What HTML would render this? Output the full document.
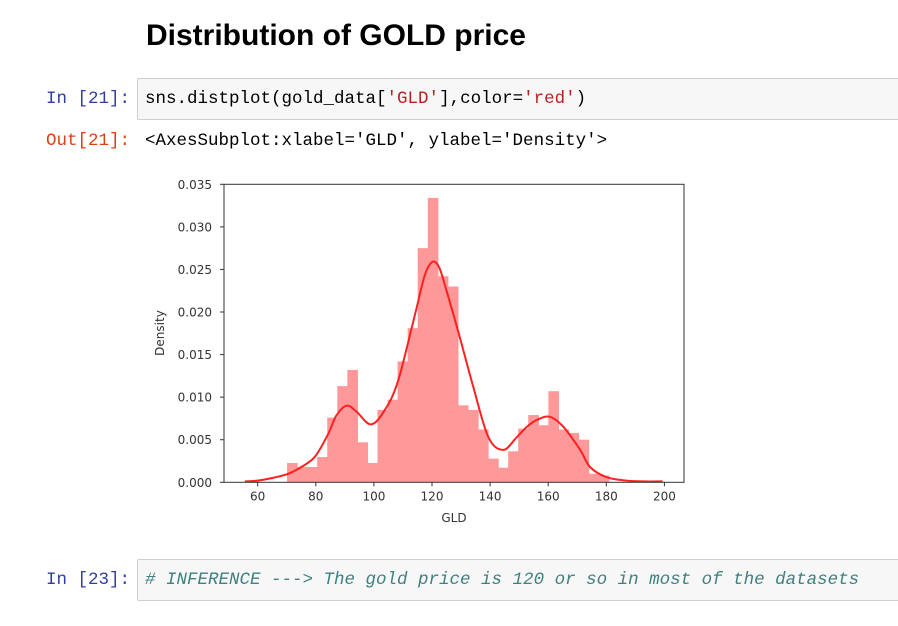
<!DOCTYPE html>
<html><head><meta charset="utf-8"><style>
body{margin:0;width:898px;height:626px;background:#fff;position:relative;overflow:hidden;font-family:"Liberation Sans",sans-serif}
.abs{position:absolute}
.mono{font-family:"Liberation Mono",monospace;font-size:17.5px;white-space:pre}
.box{background:#f7f7f7;border:1px solid #cfcfcf;border-radius:2px}
</style></head><body>
<div class="abs" style="left:146px;top:19px;font-size:30px;font-weight:bold;color:#000">Distribution of GOLD price</div>
<div class="abs mono" style="left:46px;top:89px;color:#303f9f">In [21]:</div>
<div class="abs box" style="left:137px;top:78px;width:770px;height:40px"></div>
<div class="abs mono" style="left:145px;top:89px;color:#000">sns.distplot(gold_data[<span style="color:#ba2121">'GLD'</span>],color=<span style="color:#ba2121">'red'</span>)</div>
<div class="abs mono" style="left:46px;top:131px;color:#d84315">Out[21]:</div>
<div class="abs mono" style="left:145px;top:131px;color:#000">&lt;AxesSubplot:xlabel='GLD', ylabel='Density'&gt;</div>
<svg class="abs" style="left:0;top:0" width="898" height="626" id="chart"></svg>
<div class="abs mono" style="left:46px;top:570px;color:#303f9f">In [23]:</div>
<div class="abs box" style="left:137px;top:559px;width:770px;height:40px"></div>
<div class="abs mono" style="left:145px;top:570px;color:#408080;font-style:italic"># INFERENCE ---&gt; The gold price is 120 or so in most of the datasets</div>
<script>
const binStart = 70.2;
const binWidth = 3.46;
const binDensities = [0.00227,0.0018,0.0018,0.00297,0.0076,0.0113,0.0132,0.0047,0.00227,0.0085,0.0097,0.0142,0.0181,0.0275,0.0334,0.0242,0.0230,0.00904,0.0085,0.0062,0.00278,0.00172,0.00364,0.0063,0.0079,0.0067,0.0107,0.0062,0.0058,0.0050,0.0010,0.0008];
const kdeX = [55.6,60,65,70.5,75,79.7,84.3,87,90.6,94,99,103.8,108.4,114.2,117.5,120.2,122.5,125,129.6,134.2,139.4,144.5,149.2,152.6,156,160.4,165,171,174.4,180.1,187,193,199.4];
const kdeY = [0.0001,0.0002,0.0005,0.001,0.0018,0.003,0.0057,0.0078,0.009,0.0083,0.0068,0.0085,0.012,0.0198,0.0243,0.0259,0.0252,0.0225,0.017,0.0112,0.0053,0.0038,0.0053,0.0065,0.0073,0.0077,0.0066,0.0038,0.0018,0.0006,0.0002,0.0001,0.0001];
const xTicks = [60,80,100,120,140,160,180,200];
const yTicks = [0,0.005,0.01,0.015,0.02,0.025,0.03,0.035];
const yTickLabels = ["0.000","0.005","0.010","0.015","0.020","0.025","0.030","0.035"];

const svg = document.getElementById('chart');
const NS = 'http://www.w3.org/2000/svg';
const L=224,R=684,T=184.3,B=482.3;
const xs = v => 257.7 + (v-60)*(58.1/20);
const ys = v => B - v*(B-T)/0.035;
function mk(tag, attrs){const e=document.createElementNS(NS,tag);for(const k in attrs)e.setAttribute(k,attrs[k]);svg.appendChild(e);return e;}

binDensities.forEach((d,i)=>{
  const x0=xs(binStart+i*binWidth), x1=xs(binStart+(i+1)*binWidth);
  const r=mk('rect',{x:x0-0.3,y:ys(d),width:x1-x0+0.6,height:B-ys(d),fill:'#ff9999'});
  
  
});
const P = kdeX.map((x,i)=>[xs(x), ys(kdeY[i])]);
let d = 'M'+P[0][0].toFixed(1)+','+P[0][1].toFixed(1);
for(let i=0;i<P.length-1;i++){
  const p0=P[Math.max(0,i-1)], p1=P[i], p2=P[i+1], p3=P[Math.min(P.length-1,i+2)];
  const c1=[p1[0]+(p2[0]-p0[0])/6, p1[1]+(p2[1]-p0[1])/6];
  const c2=[p2[0]-(p3[0]-p1[0])/6, p2[1]-(p3[1]-p1[1])/6];
  d+=' C'+c1[0].toFixed(1)+','+c1[1].toFixed(1)+' '+c2[0].toFixed(1)+','+c2[1].toFixed(1)+' '+p2[0].toFixed(1)+','+p2[1].toFixed(1);
}
const kde = mk('path',{d:d,fill:'none',stroke:'#ff2020','stroke-width':2,'stroke-linejoin':'round'});



const frame = mk('rect',{x:L,y:T,width:R-L,height:B-T,fill:'none',stroke:'#333','stroke-width':1});



xTicks.forEach(t=>{
  mk('line',{x1:xs(t),x2:xs(t),y1:B,y2:B+4,stroke:'#333'});
  const tx=mk('text',{x:xs(t),y:B+18,'text-anchor':'middle','font-family':'DejaVu Sans, sans-serif','font-size':12,fill:'#333'});
  tx.textContent=t;
  
  
});
yTicks.forEach((t,i)=>{
  mk('line',{x1:L-4,x2:L,y1:ys(t),y2:ys(t),stroke:'#333'});
  const tx=mk('text',{x:212,y:ys(t)+4.5,'text-anchor':'end','font-family':'DejaVu Sans, sans-serif','font-size':12,fill:'#333'});
  tx.textContent=yTickLabels[i];
  
  
});
const xl=mk('text',{x:454,y:522,'text-anchor':'middle','font-family':'DejaVu Sans, sans-serif','font-size':12,fill:'#333'});
xl.textContent='GLD';


const yl=mk('text',{x:0,y:0,'text-anchor':'middle','font-family':'DejaVu Sans, sans-serif','font-size':12,fill:'#333',transform:'translate(164,333) rotate(-90)'});
yl.textContent='Density';


</script>
</body></html>
